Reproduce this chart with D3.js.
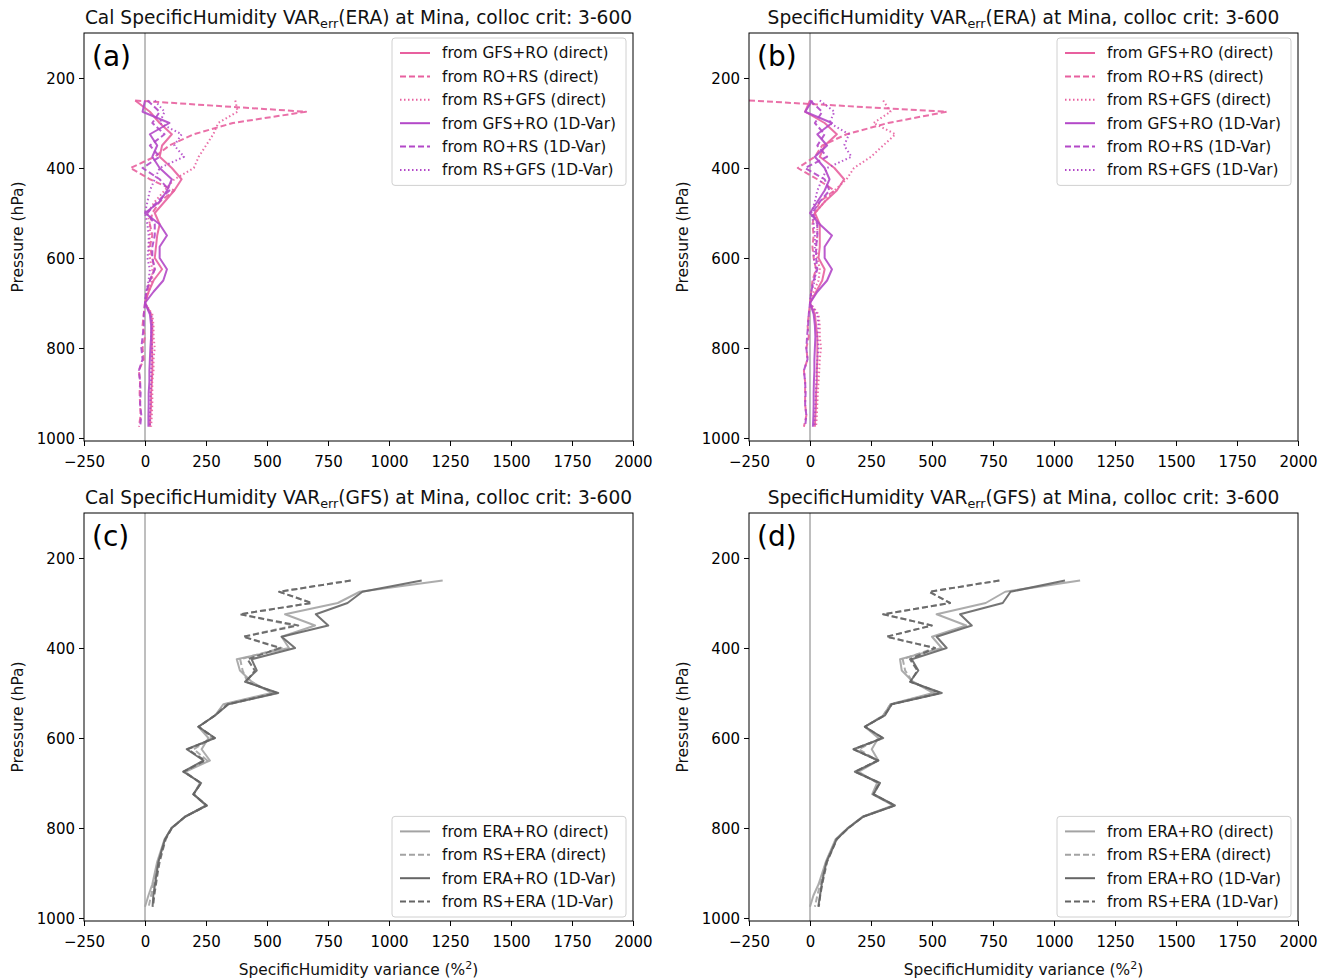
<!DOCTYPE html>
<html><head><meta charset="utf-8">
<script src="https://cdn.jsdelivr.net/npm/d3@7"></script>
<style>body{margin:0;background:#fff} svg{font-family:"DejaVu Sans",sans-serif}</style>
</head><body><svg id="chart" width="1331" height="979"></svg>
<script>
// ---------- data ----------
const levels = [250,275,300,325,350,375,400,425,450,475,500,525,550,575,600,625,650,675,700,725,750,775,800,825,850,875,900,925,950,975];
const xTicks = [-250,0,250,500,750,1000,1250,1500,1750,2000];
const yTicks = [200,400,600,800,1000];

// panel (a) Cal VARerr(ERA)
const aGfsRoDirect = [-40,20,60,110,70,60,110,150,120,80,40,60,50,45,40,70,35,15,0,25,30,30,28,30,30,28,25,25,22,20];
const aRoRsDirect  = [-40,660,360,200,100,40,-60,20,120,60,30,20,30,20,30,40,20,10,0,-5,-10,0,-10,-5,-25,-20,-22,-20,-18,-25];
const aRsGfsDirect = [370,380,300,280,250,220,200,120,80,40,10,20,20,15,20,30,30,15,0,30,35,35,40,35,35,30,30,30,28,25];
const aGfsRoVar    = [0,-10,100,20,50,30,60,110,90,60,0,60,90,60,60,90,75,35,0,20,25,25,22,20,18,18,15,15,14,14];
const aRoRsVar     = [10,60,30,80,20,60,-10,60,100,50,10,40,40,30,30,40,20,5,0,-5,-5,-10,-15,-10,-25,-20,-18,-20,-15,-20];
const aRsGfsVar    = [40,80,60,150,120,160,60,40,20,10,0,10,15,15,10,20,15,5,0,25,30,25,30,28,25,25,22,22,20,20];

// panel (b) VARerr(ERA)
const bGfsRoDirect = [0,-20,60,110,60,40,100,140,110,60,20,40,40,40,35,60,50,25,0,20,25,30,30,30,28,28,25,25,22,20];
const bRoRsDirect  = [-250,560,320,150,50,20,-50,30,100,40,20,10,15,10,15,25,10,5,0,-5,-10,-5,-15,-10,-25,-20,-20,-20,-15,-25];
const bRsGfsDirect = [300,330,260,350,300,250,180,150,100,60,20,30,30,25,30,40,35,15,0,35,40,40,45,40,38,35,32,30,28,25];
const bGfsRoVar    = [10,-20,90,30,70,20,60,80,60,30,0,40,90,60,60,90,70,30,0,15,20,22,20,18,18,16,15,15,14,12];
const bRoRsVar     = [0,50,20,60,30,70,-20,60,80,40,10,30,30,25,25,30,15,5,0,-5,-8,-12,-15,-10,-25,-20,-18,-20,-15,-20];
const bRsGfsVar    = [40,100,80,160,140,170,70,50,30,20,5,15,20,20,15,25,20,5,0,30,35,30,35,30,28,26,24,22,20,18];

// panel (c) Cal VARerr(GFS)
const cEraRoDirect = [1220,880,790,574,697,560,590,376,389,437,519,321,287,219,260,232,266,165,225,200,250,165,110,80,65,50,40,30,14,0];
const cRsEraDirect = [843,550,683,389,610,403,560,390,400,420,530,330,285,220,275,200,255,160,228,200,250,165,108,82,68,55,45,35,25,15];
const cEraRoVar    = [1134,891,830,700,751,560,615,437,458,410,546,342,287,219,287,171,240,157,230,198,253,164,109,82,68,55,48,41,34,31];
const cRsEraVar    = [843,550,683,389,628,403,553,420,450,415,540,340,287,219,285,175,245,158,230,198,253,164,110,85,72,60,52,45,38,33];

// panel (d) VARerr(GFS)
const dEraRoDirect = [1107,800,720,519,640,500,540,369,376,422,504,330,300,225,280,253,280,200,275,255,340,215,155,105,85,65,50,35,14,0];
const dRsEraDirect = [776,489,574,300,499,314,512,380,390,420,520,330,300,225,290,200,275,190,280,258,345,216,155,107,87,66,54,42,30,20];
const dEraRoVar    = [1045,822,790,615,663,519,560,417,444,410,540,335,307,225,300,178,280,184,287,260,348,218,157,109,89,68,57,48,41,34];
const dRsEraVar    = [776,489,574,300,499,314,512,410,440,412,535,335,305,225,298,180,278,185,285,260,347,217,158,110,90,70,60,50,42,36];

const pinkLabels = ["from GFS+RO (direct)","from RO+RS (direct)","from RS+GFS (direct)","from GFS+RO (1D-Var)","from RO+RS (1D-Var)","from RS+GFS (1D-Var)"];
const grayLabels = ["from ERA+RO (direct)","from RS+ERA (direct)","from ERA+RO (1D-Var)","from RS+ERA (1D-Var)"];

// ---------- drawing ----------
const PINK = "#e8609f", PURPLE = "#b348c8", LGRAY = "#a3a3a3", DGRAY = "#656565";
const DASH = "6,3", DOT = "1.5,2.5";
const pinkStyles = [[PINK,null],[PINK,DASH],[PINK,DOT],[PURPLE,null],[PURPLE,DASH],[PURPLE,DOT]];
const grayStyles = [[LGRAY,null],[LGRAY,DASH],[DGRAY,null],[DGRAY,DASH]];

const panels = [
  {x0:84,y0:33,pre:"Cal SpecificHumidity VAR",post:"(ERA) at Mina, colloc crit: 3-600",tag:"(a)",
   series:[aGfsRoDirect,aRoRsDirect,aRsGfsDirect,aGfsRoVar,aRoRsVar,aRsGfsVar],styles:pinkStyles,labels:pinkLabels,legTop:true,xlab:false},
  {x0:749,y0:33,pre:"SpecificHumidity VAR",post:"(ERA) at Mina, colloc crit: 3-600",tag:"(b)",
   series:[bGfsRoDirect,bRoRsDirect,bRsGfsDirect,bGfsRoVar,bRoRsVar,bRsGfsVar],styles:pinkStyles,labels:pinkLabels,legTop:true,xlab:false},
  {x0:84,y0:513,pre:"Cal SpecificHumidity VAR",post:"(GFS) at Mina, colloc crit: 3-600",tag:"(c)",
   series:[cEraRoDirect,cRsEraDirect,cEraRoVar,cRsEraVar],styles:grayStyles,labels:grayLabels,legTop:false,xlab:true},
  {x0:749,y0:513,pre:"SpecificHumidity VAR",post:"(GFS) at Mina, colloc crit: 3-600",tag:"(d)",
   series:[dEraRoDirect,dRsEraDirect,dEraRoVar,dRsEraVar],styles:grayStyles,labels:grayLabels,legTop:false,xlab:true}
];
const W = 549, H = 408;
const svg = d3.select("#chart");

panels.forEach(p => {
  const g = svg.append("g").attr("transform",`translate(${p.x0},${p.y0})`);
  const x = d3.scaleLinear().domain([-250,2000]).range([0,W]);
  const y = d3.scaleLinear().domain([100,1006.7]).range([0,H]);

  // zero line
  g.append("line").attr("x1",x(0)).attr("x2",x(0)).attr("y1",0).attr("y2",H)
    .attr("stroke","#7f7f7f").attr("stroke-width",1);

  const line = d3.line().x(d=>x(d[0])).y(d=>y(d[1]));
  p.series.forEach((s,i) => {
    const [col,dash] = p.styles[i];
    g.append("path").datum(s.map((v,k)=>[v,levels[k]]))
      .attr("d",line).attr("fill","none").attr("stroke",col)
      .attr("stroke-width",2).attr("stroke-opacity",0.9)
      .attr("stroke-linejoin","round")
      .attr("stroke-dasharray",dash);
  });

  // axes
  const xa = g.append("g").attr("transform",`translate(0,${H})`)
    .call(d3.axisBottom(x).tickValues(xTicks).tickSize(5).tickPadding(10).tickFormat(d=>d<0?"\u2212"+Math.abs(d):String(d)));
  const ya = g.append("g").call(d3.axisLeft(y).tickValues(yTicks).tickSize(5).tickPadding(4).tickFormat(d=>String(d)));
  [xa,ya].forEach(a=>{a.select(".domain").remove(); a.selectAll("text").attr("font-size",15).attr("font-family","DejaVu Sans").attr("fill","#000");
    a.selectAll("line").attr("stroke","#000");});
  ya.selectAll("text").attr("dy","0.35em");
  g.append("rect").attr("width",W).attr("height",H).attr("fill","none").attr("stroke","#000").attr("stroke-width",1);

  // title
  const t = g.append("text").attr("x",W/2).attr("y",-9).attr("text-anchor","middle").attr("font-size",18.6).attr("fill","#111");
  t.append("tspan").text(p.pre);
  t.append("tspan").text("err").attr("font-size",12.8).attr("dy",4);
  t.append("tspan").text(p.post).attr("dy",-4);

  // tag
  g.append("text").attr("x",8).attr("y",33).attr("font-size",28).attr("fill","#000").text(p.tag);

  // y label
  g.append("text").attr("transform",`translate(${-61},${H/2}) rotate(-90)`).attr("text-anchor","middle")
    .attr("font-size",15.5).attr("fill","#111").text("Pressure (hPa)");

  // x label
  if (p.xlab) {
    const xl = g.append("text").attr("x",W/2).attr("y",H+54).attr("text-anchor","middle").attr("font-size",15.4).attr("fill","#111");
    xl.append("tspan").text("SpecificHumidity variance (%");
    xl.append("tspan").text("2").attr("font-size",11).attr("dy",-6);
    xl.append("tspan").text(")").attr("dy",6);
  }

  // legend
  const n = p.labels.length, rowH = 23.4;
  const lx = 308, lw = 234, lh = n*rowH + 7;
  const ly = p.legTop ? 5 : H - 4 - lh;
  const lg = g.append("g").attr("transform",`translate(${lx},${ly})`);
  lg.append("rect").attr("width",lw).attr("height",lh).attr("rx",3)
    .attr("fill","#fff").attr("fill-opacity",0.85).attr("stroke","#d0d0d0");
  p.labels.forEach((lab,i)=>{
    const [col,dash] = p.styles[i];
    const yy = 15 + i*rowH;
    lg.append("line").attr("x1",8).attr("x2",38).attr("y1",yy).attr("y2",yy)
      .attr("stroke",col).attr("stroke-width",2).attr("stroke-dasharray",dash);
    lg.append("text").attr("x",50).attr("y",yy).attr("dy","0.35em").attr("font-size",15.3).attr("fill","#111").text(lab);
  });
});
</script></body></html>
